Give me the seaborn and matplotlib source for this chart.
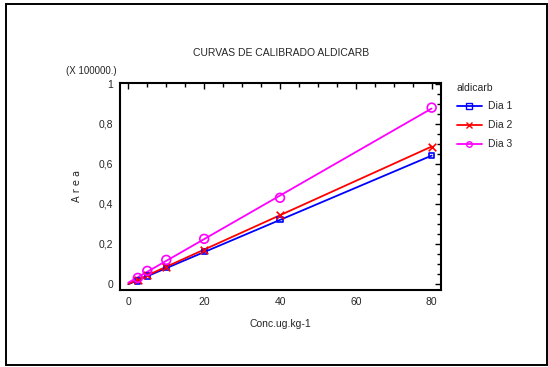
import numpy as np
import pandas as pd
import matplotlib
matplotlib.use("Agg")
import matplotlib.pyplot as plt
from matplotlib.lines import Line2D
from matplotlib.patches import Rectangle
from matplotlib.ticker import MultipleLocator, FuncFormatter
import seaborn as sns

# data (Area in units of 100000)
conc = [2.5, 5, 10, 20, 40, 80]
dia1 = [0.015, 0.040, 0.080, 0.160, 0.320, 0.640]
dia2 = [0.020, 0.045, 0.085, 0.170, 0.345, 0.685]
dia3 = [0.030, 0.065, 0.120, 0.225, 0.430, 0.880]
series = ["Dia 1", "Dia 2", "Dia 3"]
colors = ["#0000ff", "#ff0000", "#ff00ff"]
markers = ["s", "x", "o"]
sizes = [14, 30, 40]

sns.set_style("white")
plt.rcParams["font.family"] = ["Liberation Sans Narrow", "Liberation Sans", "DejaVu Sans"]

df = pd.DataFrame({
    "conc": conc * 3,
    "area": dia1 + dia2 + dia3,
    "dia": sum([[s] * len(conc) for s in series], []),
})


def fmt(v, pos):
    # comma decimals, integers without decimals
    if abs(v - round(v)) < 1e-9:
        return f"{int(round(v))}"
    return f"{v:.1f}".replace(".", ",")


fig = plt.figure(figsize=(5.48, 3.67), dpi=100)
ax = fig.add_axes([0.219, 0.21, 0.586, 0.565])

for s, c, m, sz in zip(series, colors, markers, sizes):
    sub = df[df["dia"] == s]
    # calibration line fitted to the points
    k, b = np.polyfit(sub["conc"], sub["area"], 1)
    xs = np.array([0, 80])
    sns.lineplot(x=xs, y=k * xs + b, color=c, lw=1.3, ax=ax)
    if m == "x":
        sns.scatterplot(data=sub, x="conc", y="area", color=c, marker=m,
                        s=sz, linewidth=1.2, ax=ax, zorder=3)
    else:
        sns.scatterplot(data=sub, x="conc", y="area", marker=m, s=sz,
                        facecolor="none", edgecolor=c, linewidth=1.2,
                        ax=ax, zorder=3)

ax.set_xlim(-2.2, 82.5)
ax.set_ylim(-0.03, 1.005)
ax.xaxis.set_major_locator(MultipleLocator(20))
ax.xaxis.set_minor_locator(MultipleLocator(5))
ax.yaxis.set_major_locator(MultipleLocator(0.2))
ax.yaxis.set_minor_locator(MultipleLocator(0.05))
ax.yaxis.set_major_formatter(FuncFormatter(fmt))
ax.tick_params(which="both", direction="in", top=True, right=True,
               labelsize=7.5, color="black", width=1)
ax.tick_params(which="major", length=4, pad=5)
ax.tick_params(which="minor", length=3)
for sp in ax.spines.values():
    sp.set_linewidth(1.5)
    sp.set_color("black")

ax.set_xlabel("Conc.ug.kg-1", fontsize=7.5, labelpad=9)
ax.set_ylabel("A r e a", fontsize=7, labelpad=12, family=["DejaVu Sans"])
ax.set_title("CURVAS DE CALIBRADO ALDICARB", fontsize=7.5, pad=19)
ax.text(-0.01, 1.03, "(X 100000.)", transform=ax.transAxes, fontsize=7,
        ha="right", va="bottom")

handles = [Line2D([0], [0], color=c, marker=m, lw=1.3, markersize=4,
                  markerfacecolor="none", markeredgecolor=c)
           for c, m in zip(colors, markers)]
leg = ax.legend(handles, series, title="aldicarb", loc="upper left",
                bbox_to_anchor=(1.035, 1.02), frameon=False, fontsize=7.5,
                title_fontsize=7.5, handlelength=2.4, labelspacing=0.85,
                handletextpad=0.6, borderaxespad=0)
leg._legend_box.align = "left"

fig.patches.append(Rectangle((0.011, 0.006), 0.987, 0.983, transform=fig.transFigure,
                             fill=False, edgecolor="black", lw=1.4))

fig.savefig("out.png", dpi=100)
